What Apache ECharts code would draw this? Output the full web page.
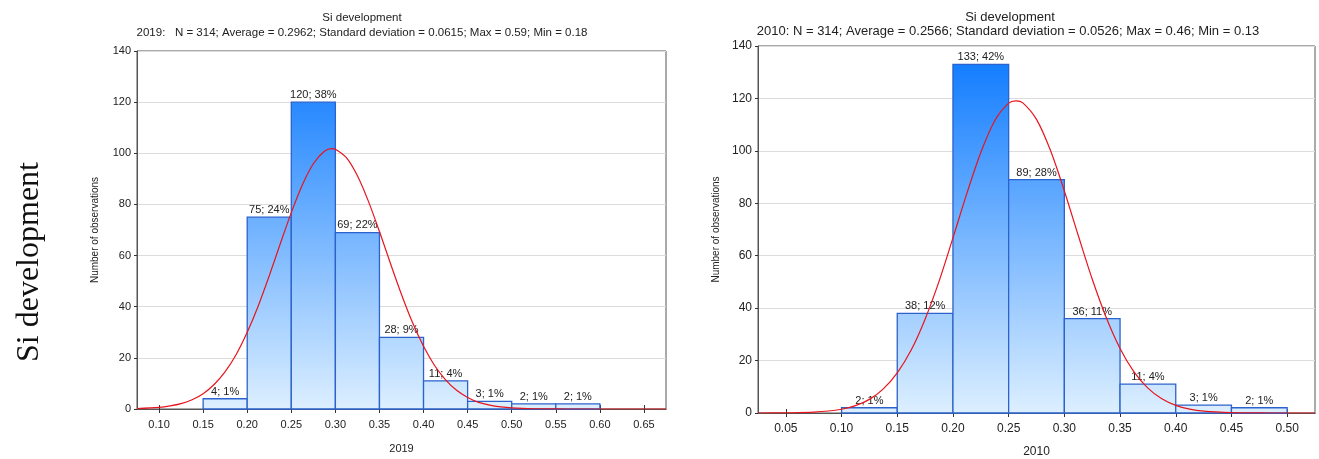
<!DOCTYPE html>
<html><head><meta charset="utf-8">
<script src="https://cdn.jsdelivr.net/npm/echarts@6/dist/echarts.min.js"></script>
<style>html,body{margin:0;padding:0;background:#fff}#c{width:1319px;height:459px}</style>
</head><body><div id="c"></div>
<script>
// ---------- data ----------
const leftBinStart = [0.15, 0.20, 0.25, 0.30, 0.35, 0.40, 0.45, 0.50, 0.55];
const leftBinEnd   = [0.20, 0.25, 0.30, 0.35, 0.40, 0.45, 0.50, 0.55, 0.60];
const leftCounts   = [4, 75, 120, 69, 28, 11, 3, 2, 2];
const leftPercents = ['1%', '24%', '38%', '22%', '9%', '4%', '1%', '1%', '1%'];
const leftTicks    = [0.10, 0.15, 0.20, 0.25, 0.30, 0.35, 0.40, 0.45, 0.50, 0.55, 0.60, 0.65];
const leftCurveX   = [0.075,0.1,0.1125,0.125,0.1375,0.15,0.1625,0.175,0.1875,0.2,0.2125,0.225,0.2375,0.25,0.2625,0.275,0.2875,0.2962,0.3,0.3125,0.325,0.3375,0.35,0.3625,0.375,0.3875,0.4,0.4125,0.425,0.4375,0.45,0.4625,0.475,0.4875,0.5,0.525,0.55,0.575,0.6,0.625,0.65,0.675];
const leftCurveY   = [0.16,0.63,1.2,2.1,3.6,6.0,9.6,14.6,21.3,30.0,40.3,52.1,64.6,76.8,87.6,95.9,100.8,101.8,101.6,98.3,91.2,81.2,69.4,56.9,44.8,33.8,24.5,17.0,11.4,7.3,4.5,2.6,1.5,0.81,0.42,0.1,0.02,0,0,0,0,0];

const rightBinStart = [0.10, 0.15, 0.20, 0.25, 0.30, 0.35, 0.40, 0.45];
const rightBinEnd   = [0.15, 0.20, 0.25, 0.30, 0.35, 0.40, 0.45, 0.50];
const rightCounts   = [2, 38, 133, 89, 36, 11, 3, 2];
const rightPercents = ['1%', '12%', '42%', '28%', '11%', '4%', '1%', '1%'];
const rightTicks    = [0.05, 0.10, 0.15, 0.20, 0.25, 0.30, 0.35, 0.40, 0.45, 0.50];
const rightCurveX   = [0.025,0.05,0.075,0.1,0.1125,0.125,0.1375,0.15,0.1625,0.175,0.1875,0.2,0.2125,0.225,0.2375,0.25,0.2566,0.2625,0.275,0.2875,0.3,0.3125,0.325,0.3375,0.35,0.3625,0.375,0.3875,0.4,0.4125,0.425,0.45,0.475,0.5,0.525];
const rightCurveY   = [0,0.05,0.31,1.42,2.8,5.2,9.2,15.3,24.0,35.8,50.2,66.8,83.8,99.4,111.5,118.2,119.1,118.4,112.0,100.2,84.7,67.7,51.1,36.5,24.6,15.7,9.5,5.4,2.9,1.47,0.71,0.14,0.02,0,0];

const yTicks = [0, 20, 40, 60, 80, 100, 120, 140];

const leftTitle1 = 'Si development';
const leftTitle2 = '2019:   N = 314; Average = 0.2962; Standard deviation = 0.0615; Max = 0.59; Min = 0.18';
const rightTitle1 = 'Si development';
const rightTitle2 = '2010: N = 314; Average = 0.2566; Standard deviation = 0.0526; Max = 0.46; Min = 0.13';
const sideLabel = 'Si development';

// ---------- chart ----------
const FONT = '"Liberation Sans", Arial, sans-serif';
const chart = echarts.init(document.getElementById('c'), null, {renderer: 'canvas'});

function barRenderer(params, api) {
  const x0 = api.value(0), x1 = api.value(1), v = api.value(2);
  const p0 = api.coord([x0, v]);
  const p1 = api.coord([x1, 0]);
  const yTop = api.coord([x0, 140])[1];
  const yBot = p1[1];
  const grad = new echarts.graphic.LinearGradient(0, yTop, 0, yBot, [
    {offset: 0, color: '#0a78ff'},
    {offset: 1, color: '#dcefff'}
  ], true);
  return {
    type: 'rect',
    shape: {x: p0[0], y: p0[1], width: p1[0] - p0[0], height: p1[1] - p0[1]},
    style: {fill: grad, stroke: '#2c62cc', lineWidth: 1.3},
    textContent: {style: {text: api.value(3), fill: '#222', font: '11px ' + FONT}},
    textConfig: {position: 'top', distance: 1}
  };
}

function makeBars(starts, ends, counts, pcts) {
  return starts.map((s, i) => [s, ends[i], counts[i], counts[i] + '; ' + pcts[i]]);
}

function xAxes(gridIndex, min, max, ticks, name, fs, gap) {
  return [{
    type: 'value', gridIndex, min, max, position: 'bottom',
    name, nameLocation: 'middle', nameGap: gap,
    nameTextStyle: {fontFamily: FONT, fontSize: fs, color: '#222'},
    axisLine: {show: true, onZero: false, lineStyle: {color: '#555', width: 1}},
    axisTick: {show: true, inside: true, length: 4, customValues: ticks, lineStyle: {color: '#333'}},
    axisLabel: {customValues: ticks, formatter: v => v.toFixed(2), fontFamily: FONT, fontSize: fs, color: '#222', margin: 10},
    splitLine: {show: false}
  }, {
    type: 'value', gridIndex, min, max, position: 'top',
    axisLine: {show: true, lineStyle: {color: '#555'}},
    axisTick: {show: true, inside: true, length: 4, customValues: ticks, lineStyle: {color: '#333'}},
    axisLabel: {show: false},
    splitLine: {show: false}
  }];
}

function yAxis(gridIndex, fs) {
  return {
    type: 'value', gridIndex, min: 0, max: 140, interval: 20,
    name: 'Number of observations', nameLocation: 'middle', nameGap: 37,
    nameTextStyle: {fontFamily: FONT, fontSize: 10, color: '#222'},
    axisLine: {show: true, lineStyle: {color: '#555'}},
    axisTick: {show: true, length: 3, lineStyle: {color: '#333'}},
    axisLabel: {customValues: yTicks, fontFamily: FONT, fontSize: fs, color: '#222', margin: 6},
    splitLine: {show: true, lineStyle: {color: '#dcdcdc', width: 1}}
  };
}

const lx = xAxes(0, 0.075, 0.675, leftTicks, '2019', 11, 34);
const rx = xAxes(1, 0.025, 0.525, rightTicks, '2010', 12, 33);

const option = {
  animation: false,
  backgroundColor: '#fff',
  grid: [
    {left: 137, right: 1319 - 666, top: 51, bottom: 459 - 409, show: true, borderColor: '#555', borderWidth: 1, outerBoundsMode: 'none', containLabel: false},
    {left: 758, right: 4, top: 46, bottom: 459 - 413, show: true, borderColor: '#555', borderWidth: 1, outerBoundsMode: 'none', containLabel: false}
  ],
  xAxis: [lx[0], lx[1], rx[0], rx[1]],
  yAxis: [yAxis(0, 11), yAxis(1, 12)],
  graphic: [
    {type: 'text', x: 362, y: 18, style: {text: leftTitle1, font: '11.5px ' + FONT, fill: '#222', align: 'center', verticalAlign: 'middle'}},
    {type: 'text', x: 362, y: 33, style: {text: leftTitle2, font: '11.5px ' + FONT, fill: '#222', align: 'center', verticalAlign: 'middle'}},
    {type: 'text', x: 1010, y: 17, style: {text: rightTitle1, font: '13px ' + FONT, fill: '#222', align: 'center', verticalAlign: 'middle'}},
    {type: 'text', x: 1008, y: 31, style: {text: rightTitle2, font: '13px ' + FONT, fill: '#222', align: 'center', verticalAlign: 'middle'}},
    {type: 'text', x: 30, y: 262, rotation: Math.PI / 2, style: {text: sideLabel, font: '32px "Liberation Serif", "Times New Roman", serif', fill: '#111', align: 'center', verticalAlign: 'middle'}}
  ],
  series: [
    {type: 'custom', xAxisIndex: 0, yAxisIndex: 0, renderItem: barRenderer,
     data: makeBars(leftBinStart, leftBinEnd, leftCounts, leftPercents), z: 2},
    {type: 'line', xAxisIndex: 0, yAxisIndex: 0, data: leftCurveX.map((x, i) => [x, leftCurveY[i]]),
     smooth: 0.3, symbol: 'none', lineStyle: {color: '#e8141c', width: 1.2}, z: 5},
    {type: 'custom', xAxisIndex: 2, yAxisIndex: 1, renderItem: barRenderer,
     data: makeBars(rightBinStart, rightBinEnd, rightCounts, rightPercents), z: 2},
    {type: 'line', xAxisIndex: 2, yAxisIndex: 1, data: rightCurveX.map((x, i) => [x, rightCurveY[i]]),
     smooth: 0.3, symbol: 'none', lineStyle: {color: '#e8141c', width: 1.2}, z: 5}
  ]
};
chart.setOption(option);
</script>
</body></html>
